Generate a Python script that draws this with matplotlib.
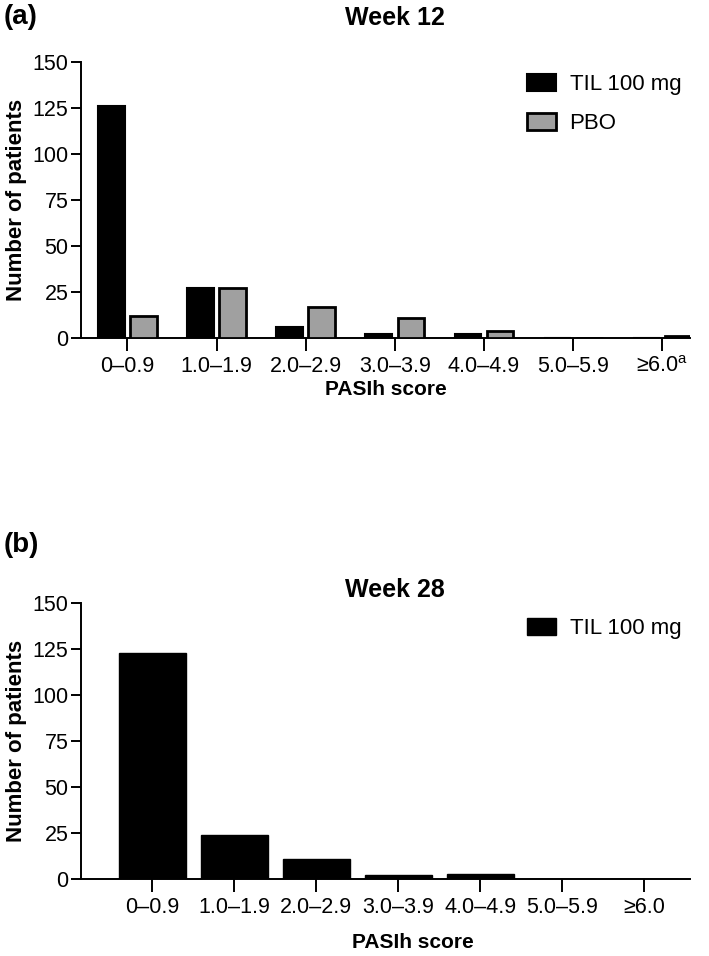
import matplotlib.pyplot as plt
import numpy as np

plt.rcParams['font.family'] = ['Liberation Sans', 'DejaVu Sans']
plt.rcParams['mathtext.fontset'] = 'custom'
plt.rcParams['mathtext.rm'] = 'Liberation Sans'

# PASIh score bins
categories_wk12 = ['0–0.9', '1.0–1.9', '2.0–2.9', '3.0–3.9', '4.0–4.9', '5.0–5.9', '≥6.0$^\\mathregular{a}$']
categories_wk28 = ['0–0.9', '1.0–1.9', '2.0–2.9', '3.0–3.9', '4.0–4.9', '5.0–5.9', '≥6.0']

# Number of patients
til_wk12 = [126, 27, 6, 2, 2, 0, 0]
pbo_wk12 = [12, 27, 17, 11, 4, 0, 1]
til_wk28 = [123, 24, 11, 2, 3, 0, 0]

yticks = [0, 25, 50, 75, 100, 125, 150]

fig = plt.figure(figsize=(7.09, 9.56), dpi=100)
ax1 = fig.add_axes([0.1142, 0.6464, 0.859, 0.2887])
ax2 = fig.add_axes([0.1142, 0.0805, 0.859, 0.2887])


def style_axes(ax, labels):
    for s in ['top', 'right']:
        ax.spines[s].set_visible(False)
    for s in ['left', 'bottom']:
        ax.spines[s].set_linewidth(1.4)
    ax.set_ylim(0, 150)
    ax.set_yticks(yticks)
    ax.set_xticks(np.arange(len(labels)))
    ax.set_xticklabels(labels, fontsize=15.5)
    ax.tick_params(axis='y', labelsize=15.5, length=7, width=1.4, pad=2)
    ax.tick_params(axis='x', length=9, width=1.4, pad=4)
    ax.set_ylabel('Number of patients', fontsize=16, fontweight='bold', labelpad=4)


x = np.arange(len(categories_wk12))
w = 0.30
ax1.bar(x - 0.18, til_wk12, w, color='black', edgecolor='black', linewidth=1.5,
        label='TIL 100 mg', zorder=3)
ax1.bar(x + 0.18, pbo_wk12, w, color='#a0a0a0', edgecolor='black', linewidth=2,
        label='PBO', zorder=3)
style_axes(ax1, categories_wk12)
ax1.set_xlim(-0.52, 6.31)
ax1.set_xlabel('PASIh score', fontsize=15, fontweight='bold', labelpad=2)
ax1.legend(loc='upper left', bbox_to_anchor=(0.70, 1.03), frameon=False, fontsize=16,
           handlelength=1.3, handleheight=0.8, labelspacing=0.8, handletextpad=0.6)

x2 = np.arange(len(categories_wk28))
ax2.bar(x2, til_wk28, 0.82, color='black', edgecolor='black', linewidth=1,
        label='TIL 100 mg', zorder=3)
style_axes(ax2, categories_wk28)
ax2.set_xlim(-0.87, 6.56)
ax2.set_xlabel('PASIh score', fontsize=15, fontweight='bold')
ax2.xaxis.set_label_coords(0.545, -0.195)
ax2.legend(loc='upper left', bbox_to_anchor=(0.70, 1.02), frameon=False, fontsize=16,
           handlelength=1.3, handleheight=0.8, handletextpad=0.6)

fig.text(0.005, 0.982, '(a)', fontsize=20, fontweight='bold', va='center', ha='left')
fig.text(0.557, 0.981, 'Week 12', fontsize=18, fontweight='bold', va='center', ha='center')
fig.text(0.005, 0.430, '(b)', fontsize=20, fontweight='bold', va='center', ha='left')
fig.text(0.557, 0.383, 'Week 28', fontsize=18, fontweight='bold', va='center', ha='center')

fig.savefig('out.png', dpi=100)
